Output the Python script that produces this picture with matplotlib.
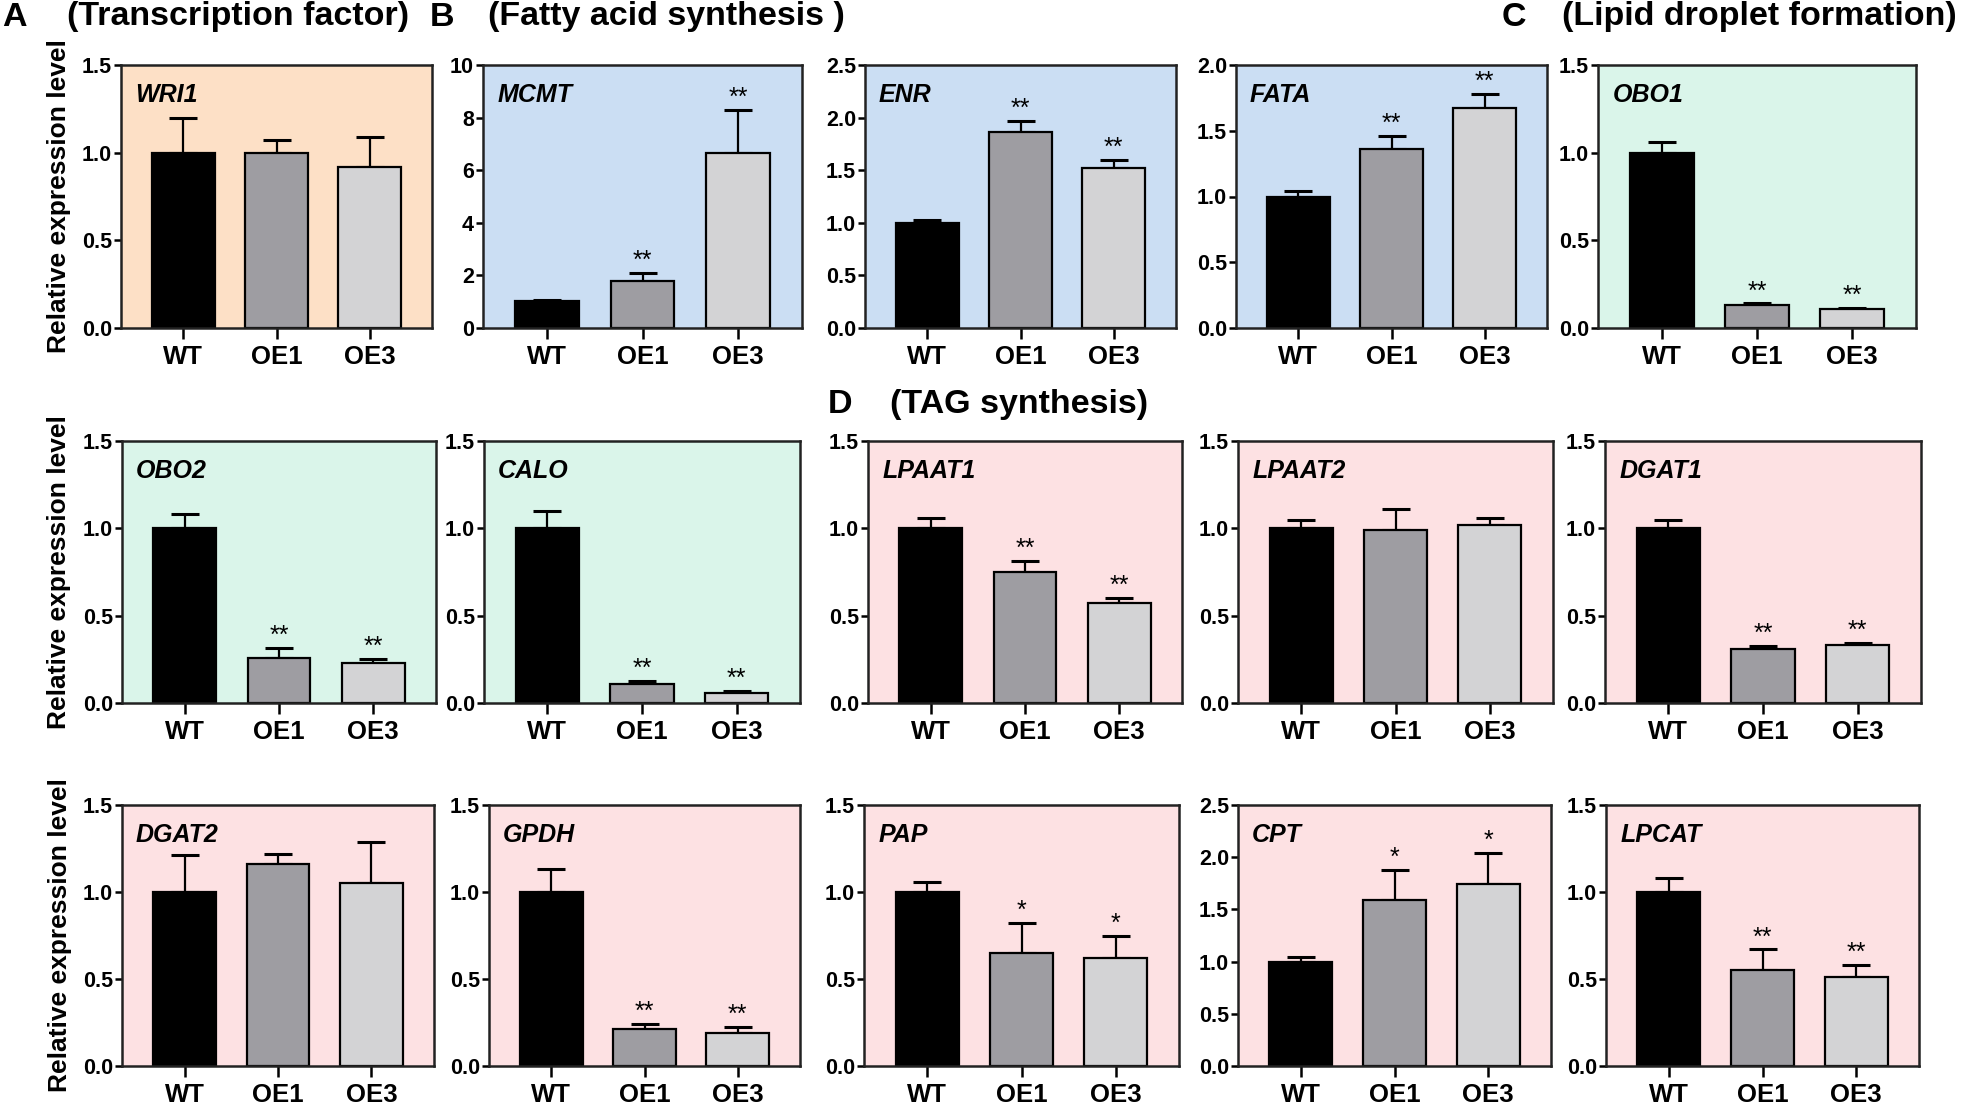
import matplotlib.pyplot as plt
from matplotlib.ticker import MultipleLocator, FormatStrFormatter

# gene panels, read left-to-right, top-to-bottom
genes = ['WRI1', 'MCMT', 'ENR', 'FATA', 'OBO1',
         'OBO2', 'CALO', 'LPAAT1', 'LPAAT2', 'DGAT1',
         'DGAT2', 'GPDH', 'PAP', 'CPT', 'LPCAT']
lines = ['WT', 'OE1', 'OE3']

wt = [1.00, 1.03, 1.00, 1.00, 1.00, 1.00, 1.00, 1.00, 1.00, 1.00, 1.00, 1.00, 1.00, 1.00, 1.00]
oe1 = [1.00, 1.79, 1.86, 1.36, 0.13, 0.26, 0.11, 0.75, 0.99, 0.31, 1.16, 0.21, 0.65, 1.59, 0.55]
oe3 = [0.92, 6.65, 1.52, 1.67, 0.11, 0.23, 0.06, 0.57, 1.02, 0.33, 1.05, 0.19, 0.62, 1.74, 0.51]
wt_err = [0.20, 0.04, 0.03, 0.04, 0.06, 0.08, 0.10, 0.06, 0.05, 0.05, 0.21, 0.13, 0.06, 0.04, 0.08]
oe1_err = [0.07, 0.29, 0.11, 0.10, 0.01, 0.055, 0.017, 0.063, 0.12, 0.015, 0.057, 0.03, 0.17, 0.29, 0.12]
oe3_err = [0.17, 1.65, 0.08, 0.11, 0.006, 0.02, 0.008, 0.03, 0.04, 0.013, 0.24, 0.034, 0.13, 0.30, 0.07]
oe1_sig = ['', '**', '**', '**', '**', '**', '**', '**', '', '**', '', '**', '*', '*', '**']
oe3_sig = ['', '**', '**', '**', '**', '**', '**', '**', '', '**', '', '**', '*', '*', '**']
ymax = [1.5, 10, 2.5, 2.0, 1.5, 1.5, 1.5, 1.5, 1.5, 1.5, 1.5, 1.5, 1.5, 2.5, 1.5]
ystep = [0.5, 2, 0.5, 0.5, 0.5, 0.5, 0.5, 0.5, 0.5, 0.5, 0.5, 0.5, 0.5, 0.5, 0.5]
groups = ['tf', 'fa', 'fa', 'fa', 'ld', 'ld', 'ld', 'tag', 'tag', 'tag',
          'tag', 'tag', 'tag', 'tag', 'tag']

bg = {'tf': '#fde0c6', 'fa': '#cbdef3', 'ld': '#daf5ea', 'tag': '#fde1e3'}
bar_colors = ['#000000', '#9e9da2', '#d3d3d5']

plt.rcParams['font.family'] = ['Liberation Sans', 'DejaVu Sans']
plt.rcParams['font.weight'] = 'bold'

W, H = 1961, 1107
fig = plt.figure(figsize=(W / 100, H / 100), dpi=100)

# axes boxes in pixels: (left, right) per panel, (top, bottom) per row
rows = [(65, 328), (441, 703), (805, 1066)]
cols = [[(121, 432), (483, 802), (865, 1176), (1236, 1547), (1598, 1916)],
        [(122, 436), (484, 800), (868, 1182), (1238, 1553), (1605, 1921)],
        [(122, 434), (489, 800), (864, 1179), (1238, 1551), (1606, 1919)]]

for i, g in enumerate(genes):
    r, c = divmod(i, 5)
    l, rt = cols[r][c]
    t, b = rows[r]
    ax = fig.add_axes([l / W, 1 - b / H, (rt - l) / W, (b - t) / H])
    ax.set_facecolor(bg[groups[i]])
    vals = [wt[i], oe1[i], oe3[i]]
    errs = [wt_err[i], oe1_err[i], oe3_err[i]]
    x = range(3)
    ax.bar(x, vals, width=0.67, color=bar_colors, edgecolor='black', linewidth=1.6, zorder=2)
    ax.errorbar(x, vals, yerr=[[0, 0, 0], errs], fmt='none', ecolor='black',
                elinewidth=1.6, capsize=10, capthick=2.2, zorder=1)
    for j, s in enumerate(['', oe1_sig[i], oe3_sig[i]]):
        if s:
            ax.annotate(s, (j, vals[j] + errs[j]), xytext=(0, 0), textcoords='offset points',
                        ha='center', va='bottom', fontsize=18, fontweight='normal')
    ax.set_xlim(-0.67, 2.67)
    ax.set_ylim(0, ymax[i])
    ax.yaxis.set_major_locator(MultipleLocator(ystep[i]))
    ax.yaxis.set_major_formatter(FormatStrFormatter('%d' if ystep[i] >= 1 else '%.1f'))
    ax.set_xticks(list(x))
    ax.set_xticklabels(lines, fontsize=18.5, fontweight='bold')
    for lab in ax.get_yticklabels():
        lab.set_fontweight('bold')
        lab.set_fontsize(15.5)
    ax.tick_params(axis='x', length=8, width=1.8, pad=4)
    ax.tick_params(axis='y', length=5, width=1.8, pad=1.5)
    for sp in ax.spines.values():
        sp.set_linewidth(1.8)
        sp.set_color('#222222')
    ax.text(0.045, 0.93, g, transform=ax.transAxes, ha='left', va='top',
            fontsize=18, fontweight='bold', fontstyle='italic')
    if c == 0:
        ax.text(-0.2, 0.5, 'Relative expression level', transform=ax.transAxes,
                rotation=90, ha='center', va='center', fontsize=19, fontweight='bold')

# group headings
heads = [(2, 17, 'A'), (67, 17, '(Transcription factor)'),
         (430, 17, 'B'), (488, 17, '(Fatty acid synthesis )'),
         (1502, 17, 'C'), (1562, 17, '(Lipid droplet formation)'),
         (828, 404, 'D'), (890, 404, '(TAG synthesis)')]
for hx, hy, txt in heads:
    fig.text(hx / W, 1 - hy / H, txt, ha='left', va='center', fontsize=24.5,
             fontweight='bold')

fig.savefig('out.png', dpi=100, facecolor='white')
